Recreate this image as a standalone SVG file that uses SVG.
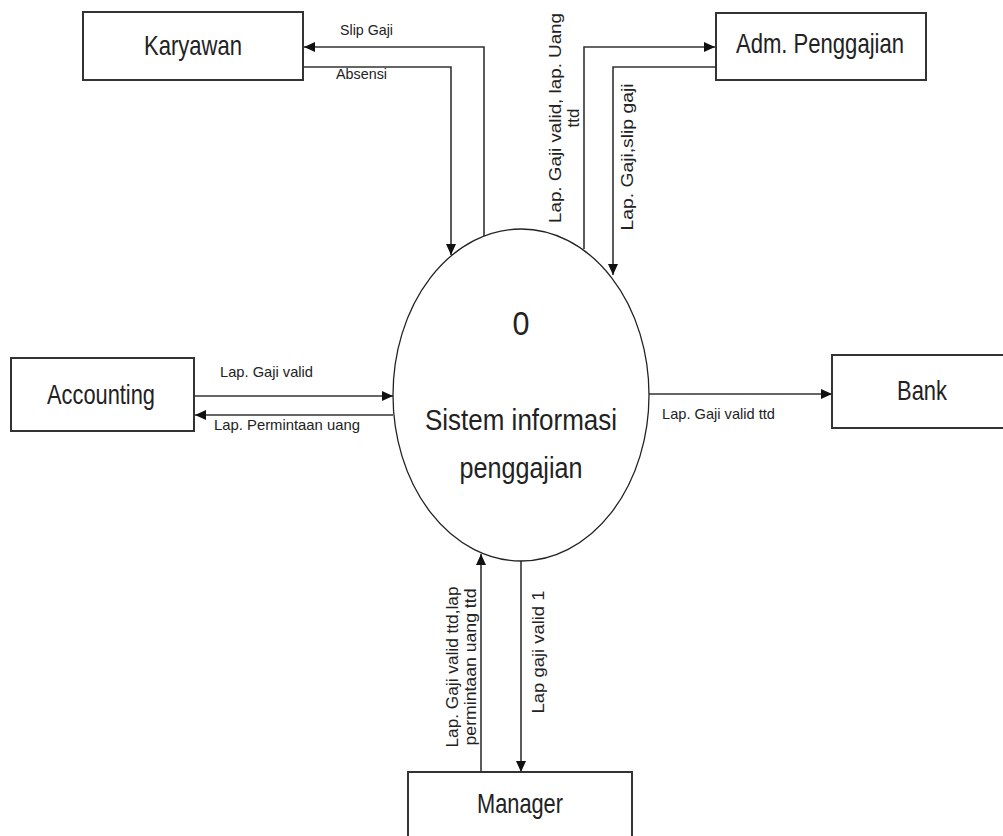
<svg xmlns="http://www.w3.org/2000/svg" width="1003" height="836" viewBox="0 0 1003 836">
<style>
.box{fill:#fff;stroke:#333;stroke-width:2}
.proc{fill:#fff;stroke:#222;stroke-width:1.3}
.flow{fill:none;stroke:#333;stroke-width:1.6;marker-end:url(#arr)}
text{font-family:"Liberation Sans",Arial,sans-serif;fill:#222}
.big{font-size:28px;text-anchor:middle}
.lbl{font-size:15px}
.vl{font-size:17px;text-anchor:middle}
</style>
<defs>
<marker id="arr" markerUnits="userSpaceOnUse" markerWidth="12" markerHeight="10" refX="11" refY="5" orient="auto">
<path d="M0,0 L11,5 L0,10 z" fill="#111"/>
</marker>
</defs>
<rect width="1003" height="836" fill="#fff"/>
<g id="connectors">
<path class="flow" d="M484,236 V47 H304"/>
<path class="flow" d="M304,67 H451 V255"/>
<path class="flow" d="M584,249 V47 H715"/>
<path class="flow" d="M716,67 H613 V275"/>
<path class="flow" d="M195,396 H393"/>
<path class="flow" d="M393,415 H195"/>
<path class="flow" d="M649,394 H832"/>
<path class="flow" d="M481,772 V554"/>
<path class="flow" d="M521,561 V772"/>
<text class="lbl" x="340" y="35" textLength="53" lengthAdjust="spacingAndGlyphs">Slip Gaji</text>
<text class="lbl" x="336" y="79" textLength="51" lengthAdjust="spacingAndGlyphs">Absensi</text>
<text class="lbl" x="220" y="377" textLength="93" lengthAdjust="spacingAndGlyphs">Lap. Gaji valid</text>
<text class="lbl" x="214" y="430" textLength="146" lengthAdjust="spacingAndGlyphs">Lap. Permintaan uang</text>
<text class="lbl" x="662" y="419" textLength="113" lengthAdjust="spacingAndGlyphs">Lap. Gaji valid ttd</text>
<g transform="translate(561,118) rotate(-90)">
<text class="vl" x="0" y="0" textLength="210" lengthAdjust="spacingAndGlyphs">Lap. Gaji valid, lap. Uang</text>
<text class="vl" x="0" y="18">ttd</text>
</g>
<text class="vl" transform="translate(633,157) rotate(-90)" textLength="147" lengthAdjust="spacingAndGlyphs">Lap. Gaji,slip gaji</text>
<g transform="translate(458,667) rotate(-90)">
<text class="vl" x="0" y="0" textLength="161" lengthAdjust="spacingAndGlyphs">Lap. Gaji valid ttd,lap</text>
<text class="vl" x="0" y="18" textLength="157" lengthAdjust="spacingAndGlyphs">permintaan uang ttd</text>
</g>
<text class="vl" transform="translate(544,652) rotate(-90)" textLength="123" lengthAdjust="spacingAndGlyphs">Lap gaji valid 1</text>
</g>
<g id="karyawan">
<rect class="box" x="83" y="12" width="220" height="68"/>
<text class="big" x="193" y="55" textLength="98" lengthAdjust="spacingAndGlyphs">Karyawan</text>
</g>
<g id="adm">
<rect class="box" x="716" y="13" width="210" height="67"/>
<text class="big" x="820" y="53" textLength="168" lengthAdjust="spacingAndGlyphs">Adm. Penggajian</text>
</g>
<g id="accounting">
<rect class="box" x="11" y="358" width="183" height="73"/>
<text class="big" x="101" y="404" textLength="108" lengthAdjust="spacingAndGlyphs">Accounting</text>
</g>
<g id="bank">
<rect class="box" x="832" y="355" width="180" height="73"/>
<text class="big" x="922" y="400" textLength="50" lengthAdjust="spacingAndGlyphs">Bank</text>
</g>
<g id="manager">
<rect class="box" x="408" y="772" width="224" height="80"/>
<text class="big" x="520" y="813" textLength="86" lengthAdjust="spacingAndGlyphs">Manager</text>
</g>
<g id="process">
<ellipse class="proc" cx="521" cy="395" rx="128" ry="166"/>
<text class="big" x="521" y="335" style="font-size:34px" textLength="17" lengthAdjust="spacingAndGlyphs">0</text>
<text class="big" x="521" y="430" style="font-size:30px" textLength="192" lengthAdjust="spacingAndGlyphs">Sistem informasi</text>
<text class="big" x="521" y="478" style="font-size:30px" textLength="123" lengthAdjust="spacingAndGlyphs">penggajian</text>
</g>
</svg>
